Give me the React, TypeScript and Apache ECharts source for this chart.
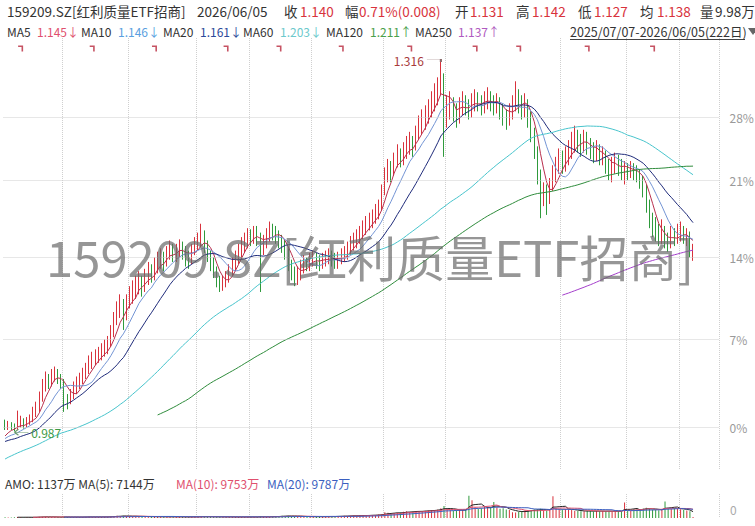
import React, { useEffect, useRef } from "react";
import * as echarts from "echarts";

// ---------------- data ----------------
const stockName = "159209.SZ[红利质量ETF招商]";
const startDate = "2025/07/07";
const endDate = "2026/06/05";
const dayAvg = "1.138";
const dayVol = "9.98万";
const pctBase = 0.988;
const pctTicks = [0, 7, 14, 21, 28];
const maPeriods = [5, 10, 20, 60, 120, 250];
const maLegendValues = ["1.145↓", "1.146↓", "1.161↓", "1.203↓", "1.211↑", "1.137↑"];
const amoPeriods = [5, 10, 20];
// month separators (trading-day index) and event flags
const gridLineIdx = [19, 40, 62, 79, 99, 122, 142, 179, 200, 217];
const eventIdx = [5, 28, 48, 71, 88, 108, 130, 151, 165, 187, 208];

// closes before the visible window (implied by the MA60/120/250 lines)
const preCloses = [
  1.0, 0.998, 0.994, 0.99, 0.985, 0.98, 0.975, 0.97, 0.965, 0.955,
  0.93, 0.915, 0.92, 0.925, 0.928, 0.932, 0.935, 0.938, 0.94, 0.942, 0.945, 0.947, 0.95,
  0.952, 0.955, 0.957, 0.96, 0.962, 0.964, 0.965, 0.967, 0.968, 0.97, 0.968, 0.97, 0.972, 0.973, 0.971, 0.973, 0.975, 0.974, 0.976,
  0.975, 0.977, 0.976, 0.978, 0.979, 0.977, 0.975, 0.973, 0.972, 0.974, 0.976, 0.978, 0.977, 0.975,
  0.976, 0.978, 0.98, 0.979, 0.977, 0.976, 0.978, 0.98, 0.982, 0.981, 0.979, 0.98, 0.983, 0.985,
];

const opens = [
  0.993, 0.990, 0.991, 0.990, 0.988, 0.993, 0.995, 0.992, 0.994, 0.996,
  1.000, 1.004, 1.012, 1.022, 1.028, 1.025, 1.030, 1.033, 1.028, 1.026,
  1.012, 1.010, 1.015, 1.020, 1.024, 1.027, 1.031, 1.035, 1.040, 1.043,
  1.046, 1.048, 1.050, 1.053, 1.056, 1.066, 1.076, 1.084, 1.090, 1.078,
  1.092, 1.098, 1.102, 1.106, 1.110, 1.104, 1.112, 1.118, 1.115, 1.122,
  1.128, 1.131, 1.126, 1.134, 1.138, 1.132, 1.136, 1.140, 1.135, 1.130,
  1.128, 1.136, 1.142, 1.146, 1.150, 1.140, 1.132, 1.125, 1.118, 1.110,
  1.105, 1.108, 1.112, 1.118, 1.124, 1.130, 1.135, 1.140, 1.145, 1.150,
  1.147, 1.152, 1.148, 1.138, 1.144, 1.150, 1.155, 1.152, 1.148, 1.146,
  1.142, 1.135, 1.125, 1.118, 1.112, 1.116, 1.122, 1.126, 1.124, 1.128,
  1.130, 1.127, 1.125, 1.128, 1.130, 1.132, 1.128, 1.126, 1.129, 1.131,
  1.134, 1.138, 1.142, 1.145, 1.148, 1.152, 1.156, 1.160, 1.163, 1.166,
  1.170, 1.176, 1.190, 1.205, 1.212, 1.208, 1.218, 1.225, 1.220, 1.228,
  1.232, 1.236, 1.232, 1.245, 1.252, 1.258, 1.262, 1.268, 1.275, 1.282,
  1.290, 1.302, 1.262, 1.270, 1.275, 1.268, 1.262, 1.270, 1.276, 1.272,
  1.268, 1.274, 1.278, 1.275, 1.272, 1.276, 1.280, 1.276, 1.272, 1.275,
  1.270, 1.262, 1.258, 1.265, 1.272, 1.280, 1.276, 1.270, 1.274, 1.262,
  1.245, 1.228, 1.205, 1.185, 1.190, 1.182, 1.195, 1.205, 1.212, 1.220,
  1.215, 1.222, 1.228, 1.235, 1.240, 1.236, 1.232, 1.238, 1.234, 1.228,
  1.225, 1.230, 1.222, 1.225, 1.215, 1.210, 1.212, 1.218, 1.214, 1.210,
  1.212, 1.208, 1.211, 1.209, 1.205, 1.200, 1.192, 1.178, 1.165, 1.158,
  1.152, 1.148, 1.153, 1.145, 1.142, 1.150, 1.147, 1.151, 1.154, 1.148,
  1.151, 1.131,
];

const closes = [
  0.990, 0.991, 0.989, 0.988, 0.993, 0.995, 0.992, 0.994, 0.996, 1.000,
  1.004, 1.012, 1.022, 1.028, 1.025, 1.030, 1.033, 1.028, 1.026, 1.012,
  1.010, 1.015, 1.020, 1.024, 1.027, 1.031, 1.035, 1.040, 1.043, 1.046,
  1.048, 1.050, 1.053, 1.056, 1.066, 1.076, 1.084, 1.090, 1.078, 1.092,
  1.098, 1.102, 1.106, 1.110, 1.104, 1.112, 1.118, 1.115, 1.122, 1.128,
  1.131, 1.126, 1.134, 1.138, 1.132, 1.136, 1.140, 1.135, 1.130, 1.128,
  1.136, 1.142, 1.146, 1.150, 1.140, 1.132, 1.125, 1.118, 1.110, 1.105,
  1.108, 1.112, 1.118, 1.124, 1.130, 1.135, 1.140, 1.145, 1.150, 1.147,
  1.152, 1.148, 1.138, 1.144, 1.150, 1.155, 1.152, 1.148, 1.146, 1.142,
  1.135, 1.125, 1.118, 1.112, 1.116, 1.122, 1.126, 1.124, 1.128, 1.130,
  1.127, 1.125, 1.128, 1.130, 1.132, 1.128, 1.126, 1.129, 1.131, 1.134,
  1.138, 1.142, 1.145, 1.148, 1.152, 1.156, 1.160, 1.163, 1.166, 1.170,
  1.174, 1.190, 1.205, 1.212, 1.208, 1.218, 1.225, 1.220, 1.228, 1.232,
  1.236, 1.232, 1.245, 1.252, 1.258, 1.262, 1.268, 1.275, 1.282, 1.290,
  1.302, 1.262, 1.270, 1.275, 1.268, 1.262, 1.270, 1.276, 1.272, 1.268,
  1.274, 1.278, 1.275, 1.272, 1.276, 1.280, 1.276, 1.272, 1.275, 1.270,
  1.262, 1.258, 1.265, 1.272, 1.280, 1.276, 1.270, 1.274, 1.262, 1.245,
  1.228, 1.205, 1.185, 1.190, 1.182, 1.195, 1.205, 1.212, 1.220, 1.215,
  1.222, 1.228, 1.235, 1.240, 1.236, 1.232, 1.238, 1.234, 1.228, 1.225,
  1.230, 1.222, 1.225, 1.215, 1.210, 1.212, 1.218, 1.214, 1.210, 1.212,
  1.208, 1.211, 1.209, 1.205, 1.200, 1.192, 1.178, 1.165, 1.158, 1.152,
  1.148, 1.153, 1.145, 1.142, 1.150, 1.147, 1.151, 1.154, 1.148, 1.151,
  1.132, 1.140,
];

const lows = [
  0.988, 0.988, 0.988, 0.987, 0.988, 0.990, 0.989, 0.990, 0.992, 0.994,
  0.998, 1.002, 1.010, 1.018, 1.020, 1.022, 1.026, 1.024, 1.020, 1.002,
  1.004, 1.008, 1.012, 1.016, 1.020, 1.024, 1.028, 1.032, 1.036, 1.039,
  1.041, 1.043, 1.046, 1.048, 1.054, 1.062, 1.072, 1.078, 1.068, 1.076,
  1.086, 1.090, 1.094, 1.098, 1.096, 1.100, 1.106, 1.108, 1.110, 1.116,
  1.120, 1.118, 1.122, 1.128, 1.126, 1.126, 1.130, 1.128, 1.122, 1.120,
  1.124, 1.132, 1.136, 1.140, 1.134, 1.126, 1.118, 1.112, 1.104, 1.100,
  1.101, 1.104, 1.108, 1.114, 1.118, 1.124, 1.128, 1.134, 1.138, 1.140,
  1.142, 1.140, 1.100, 1.132, 1.138, 1.144, 1.145, 1.142, 1.138, 1.134,
  1.128, 1.118, 1.110, 1.105, 1.106, 1.110, 1.116, 1.118, 1.118, 1.122,
  1.120, 1.118, 1.120, 1.122, 1.124, 1.122, 1.120, 1.120, 1.124, 1.126,
  1.128, 1.132, 1.136, 1.138, 1.142, 1.146, 1.150, 1.154, 1.156, 1.160,
  1.164, 1.172, 1.186, 1.198, 1.198, 1.204, 1.212, 1.212, 1.214, 1.220,
  1.224, 1.222, 1.228, 1.238, 1.244, 1.248, 1.254, 1.260, 1.266, 1.272,
  1.282, 1.222, 1.250, 1.258, 1.256, 1.250, 1.254, 1.262, 1.262, 1.258,
  1.260, 1.266, 1.266, 1.262, 1.264, 1.268, 1.266, 1.262, 1.264, 1.258,
  1.252, 1.248, 1.252, 1.258, 1.266, 1.264, 1.258, 1.260, 1.250, 1.236,
  1.220, 1.196, 1.165, 1.176, 1.168, 1.178, 1.190, 1.198, 1.206, 1.206,
  1.208, 1.214, 1.220, 1.226, 1.226, 1.222, 1.226, 1.224, 1.220, 1.216,
  1.218, 1.214, 1.214, 1.206, 1.200, 1.198, 1.206, 1.204, 1.200, 1.196,
  1.200, 1.202, 1.200, 1.198, 1.192, 1.184, 1.170, 1.156, 1.148, 1.144,
  1.140, 1.142, 1.138, 1.135, 1.138, 1.140, 1.142, 1.144, 1.142, 1.140,
  1.130, 1.127,
];

const highs = [
  0.996, 0.995, 0.994, 0.993, 1.003, 0.999, 0.997, 0.998, 1.000, 1.006,
  1.010, 1.018, 1.028, 1.034, 1.032, 1.036, 1.038, 1.036, 1.032, 1.028,
  1.016, 1.020, 1.026, 1.030, 1.033, 1.037, 1.041, 1.047, 1.050, 1.052,
  1.054, 1.057, 1.060, 1.063, 1.072, 1.083, 1.092, 1.098, 1.094, 1.098,
  1.105, 1.110, 1.114, 1.118, 1.114, 1.120, 1.126, 1.124, 1.130, 1.135,
  1.138, 1.135, 1.140, 1.145, 1.142, 1.142, 1.146, 1.144, 1.140, 1.136,
  1.142, 1.148, 1.152, 1.160, 1.154, 1.145, 1.136, 1.130, 1.122, 1.114,
  1.114, 1.118, 1.124, 1.130, 1.136, 1.142, 1.148, 1.152, 1.156, 1.155,
  1.158, 1.158, 1.152, 1.150, 1.156, 1.162, 1.160, 1.158, 1.154, 1.150,
  1.146, 1.138, 1.128, 1.122, 1.122, 1.128, 1.132, 1.130, 1.134, 1.136,
  1.134, 1.132, 1.134, 1.136, 1.138, 1.136, 1.134, 1.135, 1.138, 1.140,
  1.144, 1.149, 1.152, 1.155, 1.158, 1.163, 1.167, 1.170, 1.173, 1.178,
  1.182, 1.196, 1.212, 1.220, 1.218, 1.226, 1.234, 1.230, 1.236, 1.242,
  1.246, 1.242, 1.252, 1.262, 1.268, 1.272, 1.278, 1.286, 1.294, 1.300,
  1.316, 1.304, 1.282, 1.286, 1.280, 1.274, 1.280, 1.286, 1.282, 1.278,
  1.284, 1.288, 1.285, 1.282, 1.286, 1.290, 1.286, 1.282, 1.284, 1.280,
  1.274, 1.268, 1.274, 1.282, 1.296, 1.288, 1.282, 1.284, 1.278, 1.266,
  1.250, 1.232, 1.210, 1.198, 1.196, 1.202, 1.214, 1.222, 1.230, 1.228,
  1.232, 1.238, 1.246, 1.252, 1.248, 1.244, 1.248, 1.246, 1.240, 1.236,
  1.238, 1.234, 1.232, 1.228, 1.220, 1.222, 1.226, 1.224, 1.220, 1.218,
  1.216, 1.218, 1.216, 1.214, 1.210, 1.204, 1.196, 1.182, 1.170, 1.166,
  1.160, 1.164, 1.158, 1.152, 1.158, 1.156, 1.160, 1.162, 1.158, 1.156,
  1.153, 1.142,
];

// daily turnover (万元)
const amounts = [
  900, 700, 650, 800, 1200, 900, 700, 750, 800, 950,
  1100, 1300, 1500, 1400, 1100, 1000, 1200, 1000, 900, 1400,
  1100, 900, 950, 1000, 1100, 1050, 1200, 1300, 1250, 1150,
  1100, 1200, 1300, 1400, 1700, 2200, 2500, 2100, 2600, 2000,
  1900, 1800, 2100, 1700, 1600, 1500, 1300, 1400, 1600, 1300,
  1500, 1200, 1400, 1300, 1500, 1200, 1100, 1300, 1200, 1100,
  1300, 1400, 1500, 1800, 1600, 1400, 1300, 1200, 1500, 1400,
  1200, 1100, 1200, 1300, 1100, 1000, 1200, 1100, 1300, 1000,
  1100, 1200, 1900, 1300, 1200, 1100, 1800, 2200, 2000, 2400,
  2100, 2600, 2300, 2000, 1900, 1700, 1400, 1500, 1300, 1600,
  1400, 1500, 1300, 1600, 1800, 1700, 1900, 2000, 2200, 2400,
  2300, 2600, 2800, 2500, 2700, 3000, 2900, 3200, 3500, 3300,
  3800, 4200, 6500, 5800, 5200, 5600, 6000, 6300, 7000, 7500,
  6800, 7200, 8000, 7600, 7800, 8200, 8500, 9000, 8800, 9500,
  11000, 13500, 10000, 9000, 8500, 8800, 9200, 9000, 9500, 25000,
  20000, 12000, 10500, 11000, 12500, 13000, 11500, 18000, 12000, 10500,
  11000, 9500, 9000, 6500, 6200, 6800, 8000, 8500, 8200, 9000,
  9500, 9800, 10500, 8800, 8500, 9000, 24500, 11000, 10500, 9800,
  10200, 9600, 9000, 8000, 7800, 7600, 7500, 8200, 7900, 7400,
  7800, 7600, 8000, 7500, 7700, 7300, 7600, 7800, 7400, 17500,
  8200, 7900, 10200, 9800, 9500, 10800, 11500, 10400, 9200, 8900,
  8800, 9110, 18500, 11000, 10500, 11200, 10610, 9800, 8900, 8400,
  7483, 1137,
];

// ---------------- styling ----------------
const FONT = '"Noto Sans CJK SC", "Noto Sans", sans-serif';
const RED = "#d8323c";
const GREEN = "#2f9a3c";
const DARK = "#333333";
const maColors = ["#b8304e", "#7394d4", "#1f2b7a", "#48c4cc", "#2f8c3c", "#a43ecb"];
const maTextColors = ["#e0506e", "#5a9fe0", "#2c4a9a", "#6cc9cc", "#4aa04a", "#b05ac0"];
const amoColors = ["#222222", "#e0506e", "#3b5fc0"];

const N = closes.length;
const PAD = 8;
const cats = Array.from({ length: N + PAD }, (_, i) => String(i));
const allCloses = preCloses.concat(closes);

function movingAvg(src: number[], offset: number, n: number, digits: number) {
  return closes.map((_, i) => {
    const end = offset + i;
    if (end - n + 1 < 0) return null;
    let s = 0;
    for (let k = end - n + 1; k <= end; k++) s += src[k];
    return +(s / n).toFixed(digits);
  });
}

export default function App() {
  const ref = useRef<HTMLDivElement>(null);

  useEffect(() => {
    if (!ref.current) return;
    const chart = echarts.init(ref.current, undefined, { renderer: "svg" });

    const candles = closes.map((c, i) => [opens[i], c, lows[i], highs[i]]);
    const maSeries = maPeriods.map((p, k) => ({
      type: "line",
      name: "MA" + p,
      xAxisIndex: 0,
      yAxisIndex: 0,
      data: movingAvg(allCloses, preCloses.length, p, 4),
      showSymbol: false,
      symbol: "none",
      lineStyle: { width: 1, color: maColors[k] },
      z: 3,
      silent: true,
    }));
    const amoMa = amoPeriods.map((p) => movingAvg(amounts, 0, p, 0));
    const amoSeries = amoPeriods.map((p, k) => ({
      type: "line",
      xAxisIndex: 1,
      yAxisIndex: 1,
      data: amoMa[k],
      showSymbol: false,
      symbol: "none",
      lineStyle: { width: 1, color: amoColors[k] },
      silent: true,
      z: 3,
    }));

    let hiIdx = 0;
    let loIdx = 0;
    highs.forEach((h, i) => { if (h > highs[hiIdx]) hiIdx = i; });
    lows.forEach((l, i) => { if (l < lows[loIdx]) loIdx = i; });

    const last = N - 1;
    const chg = closes[last] - closes[last - 1];
    const chgPct = (chg / closes[last - 1]) * 100;

    const markerLevel = 1.3295;

    const txt = (x: number, y: number, text: string, fill: string, size: number, extra: any = {}) => ({
      type: "text",
      x,
      y,
      silent: true,
      z: 50,
      style: { text, fill, fontSize: size, fontFamily: FONT, verticalAlign: "middle", ...extra },
    });

    const titleRow = [
      [7, stockName, DARK],
      [197, endDate, DARK],
      [284, "收", DARK],
      [300, closes[last].toFixed(3), RED],
      [345, "幅", DARK],
      [359, chgPct.toFixed(2) + "%(" + chg.toFixed(3) + ")", RED],
      [455, "开", DARK],
      [470, opens[last].toFixed(3), RED],
      [516, "高", DARK],
      [532, highs[last].toFixed(3), RED],
      [578, "低", DARK],
      [594, lows[last].toFixed(3), RED],
      [640, "均", DARK],
      [657, dayAvg, RED],
      [700, "量", DARK],
      [715, dayVol, DARK],
    ].map(([x, t, c]) => txt(x as number, 11, t as string, c as string, 13.5));

    const maNameX = [7, 81, 163, 243, 326, 415];
    const maValX = [37, 118, 200, 280, 370, 458];
    const maRow: any[] = [];
    maPeriods.forEach((p, k) => {
      maRow.push(txt(maNameX[k], 31, "MA" + p, DARK, 12));
      maRow.push(txt(maValX[k], 31, maLegendValues[k], maTextColors[k], 12));
    });

    const lastAmo = amounts[last];
    const amoRow = [
      txt(5, 483, "AMO: " + lastAmo + "万 MA(5): " + amoMa[0][last] + "万", DARK, 12),
      txt(176, 483, "MA(10): " + amoMa[1][last] + "万", amoColors[1], 12),
      txt(267, 483, "MA(20): " + amoMa[2][last] + "万", amoColors[2], 12),
    ];

    const graphic: any[] = [
      ...titleRow,
      ...maRow,
      txt(570, 31, startDate + "-" + endDate + "(" + N + "日)", DARK, 12.5),
      {
        type: "line",
        silent: true,
        shape: { x1: 570, y1: 39.5, x2: 745, y2: 39.5 },
        style: { stroke: "#444", lineWidth: 1 },
      },
      {
        type: "polygon",
        silent: true,
        shape: { points: [[748, 28], [758, 28], [753, 35]] },
        style: { fill: "#666" },
      },
      ...amoRow,
      txt(730, 509, "0", "#aaaaaa", 12),
      {
        type: "text",
        x: 370,
        y: 255,
        silent: true,
        z: 100,
        style: {
          text: stockName,
          fill: "rgba(105,105,105,0.7)",
          fontSize: 49,
          fontFamily: FONT,
          align: "center",
          verticalAlign: "middle",
        },
      },
    ];

    const splitInterval = (index: number) => gridLineIdx.indexOf(index) >= 0;
    const gridLineStyle = { color: "#cfcfcf", type: "dotted" as const, width: 1 };

    const option: any = {
      animation: false,
      backgroundColor: "#ffffff",
      textStyle: { fontFamily: FONT },
      grid: [
        { left: 3.5, right: 35.5, top: 38, height: 432 },
        { left: 3.5, right: 35.5, top: 494, height: 24 },
      ],
      xAxis: [0, 1].map((g) => ({
        type: "category",
        gridIndex: g,
        data: cats,
        boundaryGap: true,
        axisLine: { show: false },
        axisTick: { show: false },
        axisLabel: { show: false },
        splitLine: { show: true, interval: splitInterval, lineStyle: gridLineStyle },
      })),
      yAxis: [
        {
          type: "log",
          gridIndex: 0,
          logBase: 10,
          min: 0.9577,
          max: 1.3404,
          axisLine: { show: false },
          axisTick: { show: false },
          axisLabel: { show: false },
          splitLine: { show: false },
        },
        {
          type: "value",
          gridIndex: 1,
          min: 0,
          max: 27000,
          axisLine: { show: false },
          axisTick: { show: false },
          axisLabel: { show: false },
          splitLine: { show: false },
        },
      ],
      series: [
        {
          type: "candlestick",
          xAxisIndex: 0,
          yAxisIndex: 0,
          data: candles,
          barWidth: 1.1,
          silent: true,
          z: 2,
          itemStyle: {
            color: RED,
            color0: GREEN,
            borderColor: RED,
            borderColor0: GREEN,
            borderWidth: 1,
          },
          markLine: {
            silent: true,
            symbol: ["none", "none"],
            animation: false,
            lineStyle: { color: "#cfcfcf", type: "dotted", width: 1 },
            label: {
              show: true,
              position: "end",
              formatter: "{b}",
              color: "#9a9a9a",
              fontSize: 12,
              fontFamily: FONT,
              distance: 10,
            },
            emphasis: { disabled: true },
            data: pctTicks.map((t) => ({ name: t + "%", yAxis: pctBase * (1 + t / 100) })),
          },
          markPoint: {
            silent: true,
            animation: false,
            data: [
              {
                coord: [String(hiIdx), highs[hiIdx]],
                symbol: "path://M0 0 H14 V3",
                symbolSize: [14, 3],
                symbolOffset: [-7, -1],
                itemStyle: { color: "transparent", borderColor: "#8a6a6a", borderWidth: 1 },
                label: {
                  show: true,
                  position: "left",
                  distance: 2,
                  formatter: highs[hiIdx].toFixed(3),
                  color: "#a83a3a",
                  fontSize: 12,
                  fontFamily: FONT,
                },
              },
              {
                coord: [String(loIdx), lows[loIdx]],
                symbol: "path://M0 3 L4 0 M0 3 L4 6 M0 3 H14",
                symbolSize: [14, 6],
                symbolOffset: [7, 1],
                itemStyle: { color: "transparent", borderColor: "#6a9a6a", borderWidth: 1 },
                label: {
                  show: true,
                  position: "right",
                  distance: 2,
                  formatter: lows[loIdx].toFixed(3),
                  color: "#3d9a45",
                  fontSize: 12,
                  fontFamily: FONT,
                },
              },
            ],
          },
        },
        ...maSeries,
        {
          type: "scatter",
          xAxisIndex: 0,
          yAxisIndex: 0,
          data: eventIdx.map((i) => [i, markerLevel]),
          symbol: "path://M0 0 H5 V6 H3.4 V1.6 H0 Z",
          symbolSize: [5, 6],
          itemStyle: { color: "#b8283c" },
          silent: true,
          z: 4,
        },
        {
          type: "bar",
          xAxisIndex: 1,
          yAxisIndex: 1,
          barWidth: 1,
          silent: true,
          data: amounts.map((v, i) => ({
            value: v,
            itemStyle: { color: closes[i] >= opens[i] ? RED : GREEN },
          })),
        },
        ...amoSeries,
      ],
      graphic,
    };

    chart.setOption(option);
    return () => chart.dispose();
  }, []);

  return (
    <div
      ref={ref}
      style={{ position: "fixed", left: 0, top: 0, width: 755, height: 526, background: "#fff" }}
    />
  );
}
